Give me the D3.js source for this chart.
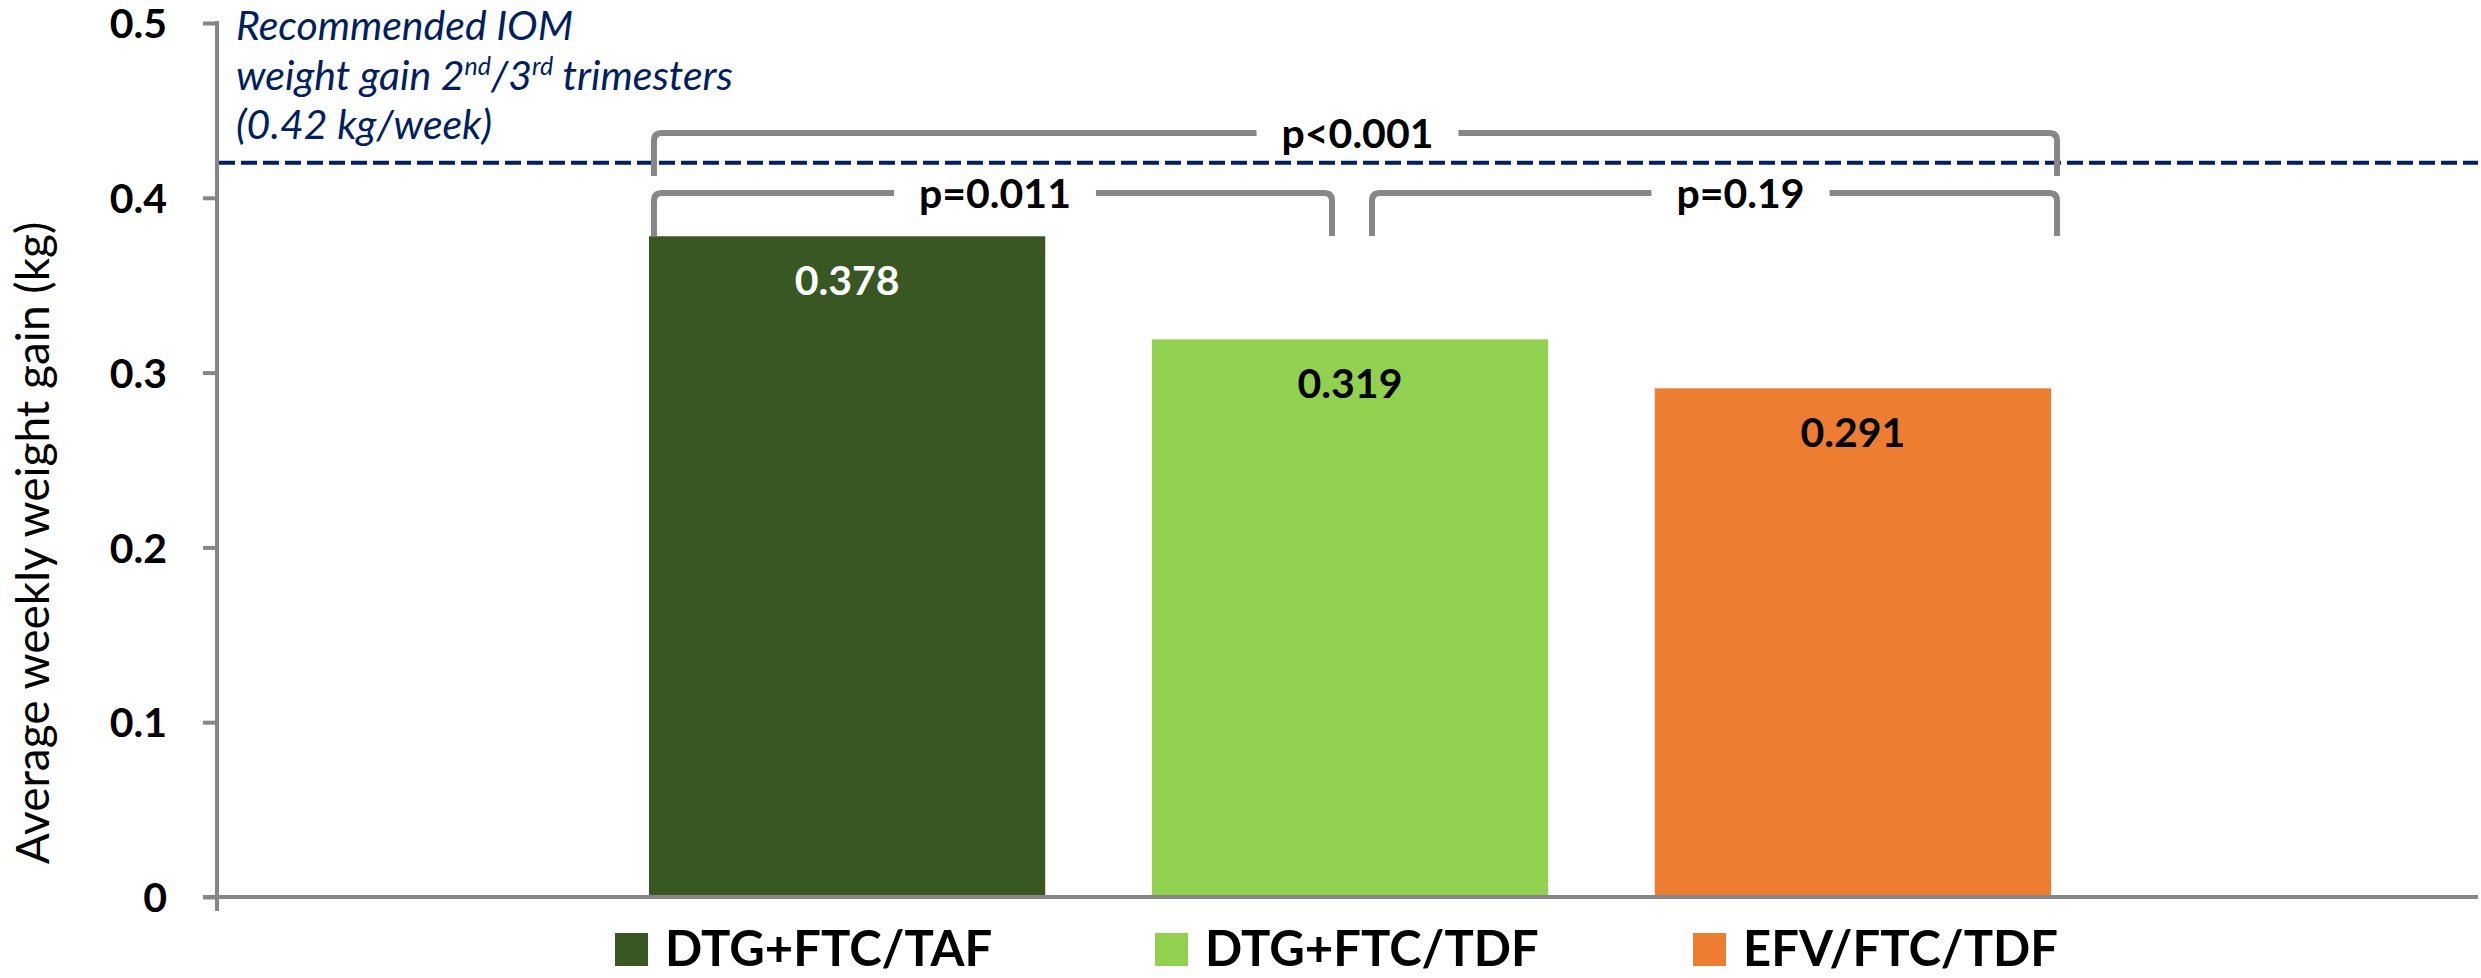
<!DOCTYPE html>
<html>
<head>
<meta charset="utf-8">
<script src="https://cdn.jsdelivr.net/npm/d3@7"></script>
<style>
  html, body { margin: 0; padding: 0; background: #ffffff; }
  svg { display: block; font-family: Lato, "Open Sans", sans-serif; }
</style>
</head>
<body>
<svg id="chart" width="2481" height="978"></svg>
<script>
// ---- data ----
const categories = ["DTG+FTC/TAF", "DTG+FTC/TDF", "EFV/FTC/TDF"];
const values = [0.378, 0.319, 0.291];
const barColors = ["#385723", "#92D050", "#ED7D31"];
const valueLabelColors = ["#FFFFFF", "#000000", "#000000"];
const yTicks = [0, 0.1, 0.2, 0.3, 0.4, 0.5];
const yTickLabels = ["0", "0.1", "0.2", "0.3", "0.4", "0.5"];
const yTitle = "Average weekly weight gain (kg)";
const referenceValue = 0.42;
const comparisonFrom = [0, 0, 1];
const comparisonTo = [2, 1, 2];
const comparisonLabels = ["p<0.001", "p=0.011", "p=0.19"];
const comparisonLevels = [0, 1, 1];

// ---- layout ----
const W = 2481, H = 978;
const axisX = 217, axisRight = 2478;
const svg = d3.select("#chart");

const y = d3.scaleLinear().domain([0, 0.5]).range([897, 23]);
const x = d3.scaleBand().domain(categories).range([222, 2478])
  .paddingInner(0.212).paddingOuter(0.849);

const grey = "#868686";
const navy = "#002060";

// bars
svg.append("g").selectAll("rect").data(categories).join("rect")
  .attr("x", d => x(d))
  .attr("width", x.bandwidth())
  .attr("y", (d, i) => y(values[i]))
  .attr("height", (d, i) => y(0) - y(values[i]))
  .attr("fill", (d, i) => barColors[i]);

// value labels
svg.append("g").selectAll("text").data(categories).join("text")
  .attr("x", d => x(d) + x.bandwidth() / 2)
  .attr("y", (d, i) => y(values[i]) + 59)
  .attr("text-anchor", "middle")
  .attr("font-size", 41).attr("font-weight", "bold")
  .attr("fill", (d, i) => valueLabelColors[i])
  .text((d, i) => values[i].toFixed(3));

// y axis
const yAxis = d3.axisLeft(y).tickValues(yTicks)
  .tickFormat((d, i) => yTickLabels[i]).tickSize(14).tickPadding(36);
const gy = svg.append("g").attr("transform", `translate(${axisX},0)`).call(yAxis);
gy.select(".domain").remove();
gy.selectAll(".tick line").attr("stroke", grey).attr("stroke-width", 4);
gy.selectAll(".tick text").attr("font-size", 41).attr("font-weight", "bold")
  .attr("fill", "#000").attr("font-family", "Lato, sans-serif").attr("dy", "0.36em");
svg.append("line").attr("x1", axisX).attr("x2", axisX)
  .attr("y1", y(0.5) - 2).attr("y2", y(0) + 14)
  .attr("stroke", grey).attr("stroke-width", 4);

// x axis line
svg.append("line").attr("x1", axisX - 14).attr("x2", axisRight)
  .attr("y1", y(0)).attr("y2", y(0))
  .attr("stroke", grey).attr("stroke-width", 4);

// y title
svg.append("text")
  .attr("transform", `translate(49, 543) rotate(-90)`)
  .attr("text-anchor", "middle")
  .attr("font-size", 46).attr("fill", "#000")
  .text(yTitle);

// reference line
svg.append("line").attr("x1", axisX + 2).attr("x2", axisRight)
  .attr("y1", y(referenceValue)).attr("y2", y(referenceValue))
  .attr("stroke", navy).attr("stroke-width", 4).attr("stroke-dasharray", "16,6");

// reference annotation
const ann = svg.append("text").attr("font-size", 41).attr("font-style", "italic").attr("fill", navy);
ann.append("tspan").attr("x", 236).attr("y", 40).text("Recommended IOM");
const l2 = ann.append("tspan").attr("x", 236).attr("y", 90);
l2.append("tspan").text("weight gain 2");
l2.append("tspan").attr("font-size", 25).attr("dy", -15).text("nd");
l2.append("tspan").attr("dy", 15).text("/3");
l2.append("tspan").attr("font-size", 25).attr("dy", -15).text("rd");
l2.append("tspan").attr("dy", 15).text(" trimesters");
ann.append("tspan").attr("x", 236).attr("y", 139).text("(" + referenceValue + " kg/week)");

// comparison brackets
const levelY = [133, 193];
const legLen = 43;
const bw = x.bandwidth();
comparisonLabels.forEach((lab, i) => {
  const f = comparisonFrom[i], t = comparisonTo[i];
  const cf = categories[f], ct = categories[t];
  const x1 = f === 0 ? x(cf) + 5 : x(cf) + bw / 2 + 22;
  const x2 = t === categories.length - 1 ? x(ct) + bw + 6 : x(ct) + bw / 2 - 18;
  const yl = levelY[comparisonLevels[i]];
  const g = svg.append("g");
  const tx = g.append("text")
    .attr("x", (x1 + x2) / 2 + (i === 2 ? 26 : 2))
    .attr("y", yl + 15)
    .attr("text-anchor", "middle").attr("font-size", 41).attr("font-weight", "bold")
    .attr("fill", "#000").text(lab);
  const tw = tx.node().getComputedTextLength();
  const cx = +tx.attr("x");
  const gapL = cx - tw / 2 - 25, gapR = cx + tw / 2 + 25;
  const r = 8;
  const p = d3.path();
  p.moveTo(x1, yl + legLen);
  p.lineTo(x1, yl + r);
  p.quadraticCurveTo(x1, yl, x1 + r, yl);
  p.lineTo(gapL, yl);
  p.moveTo(gapR, yl);
  p.lineTo(x2 - r, yl);
  p.quadraticCurveTo(x2, yl, x2, yl + r);
  p.lineTo(x2, yl + legLen);
  g.insert("path", "text").attr("d", p.toString()).attr("fill", "none")
    .attr("stroke", "#878787").attr("stroke-width", 6);
});

// legend
const legendX = [615, 1155, 1693];
const lg = svg.append("g");
categories.forEach((c, i) => {
  lg.append("rect").attr("x", legendX[i]).attr("y", 933).attr("width", 33).attr("height", 33)
    .attr("fill", barColors[i]);
  lg.append("text").attr("x", legendX[i] + 50).attr("y", 966)
    .attr("font-size", 49).attr("font-weight", "bold").attr("fill", "#000").text(c);
});
</script>
</body>
</html>
